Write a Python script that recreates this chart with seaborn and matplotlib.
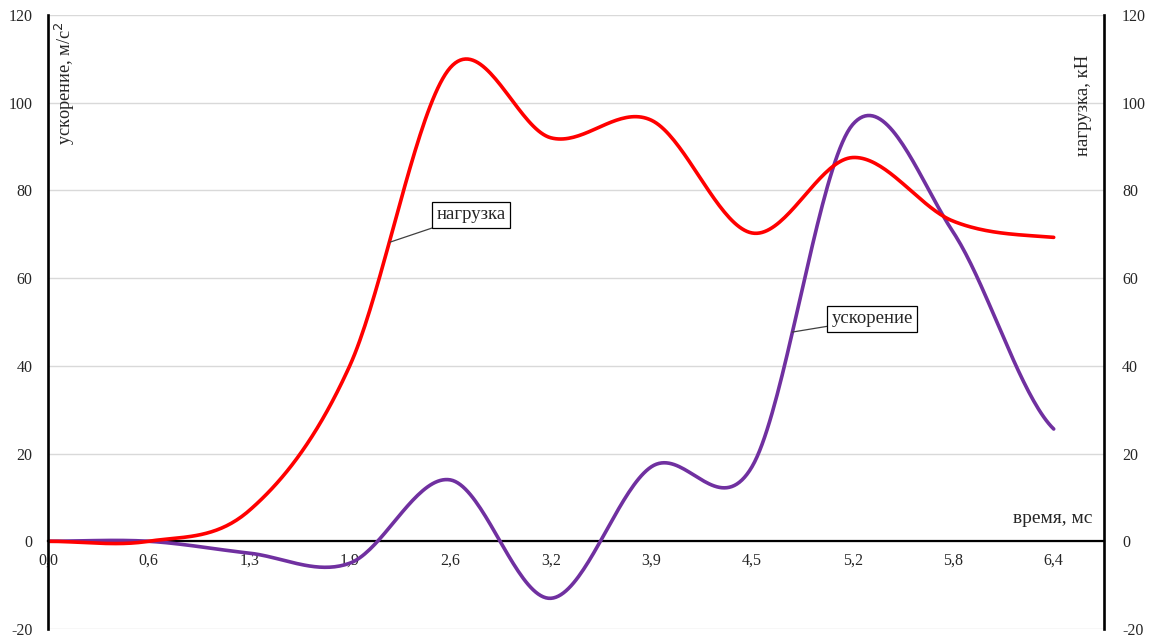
import numpy as np
import pandas as pd
import matplotlib
matplotlib.use("Agg")
import matplotlib.pyplot as plt
import seaborn as sns

# ----------------------------------------------------------------------
# data (one value per time label)
# ----------------------------------------------------------------------
time_labels = ["0,0", "0,6", "1,3", "1,9", "2,6", "3,2", "3,9", "4,5", "5,2", "5,8", "6,4"]
load_kn = [0, 0, 7, 40, 108, 92, 96, 70.3, 87.5, 73, 69.3]          # нагрузка, кН
accel = [0, 0, -2.7, -5, 14, -13, 17, 17, 95, 70.5, 25.6]            # ускорение, м/с2

y_ticks = [-20, 0, 20, 40, 60, 80, 100, 120]

RED = "#FF0000"
PURPLE = "#7030A0"


def smooth(values, n=40):
    """Catmull-Rom curve through the points, like Excel's smoothed line."""
    pts = [values[0]] + list(values) + [values[-1]]
    xs, ys = [], []
    t = np.linspace(0, 1, n, endpoint=False)
    for i in range(len(values) - 1):
        p0, p1, p2, p3 = pts[i:i + 4]
        m1 = (p2 - p0) / 2
        m2 = (p3 - p1) / 2
        h00 = 2 * t**3 - 3 * t**2 + 1
        h10 = t**3 - 2 * t**2 + t
        h01 = -2 * t**3 + 3 * t**2
        h11 = t**3 - t**2
        xs.extend(i + t)
        ys.extend(h00 * p1 + h10 * m1 + h01 * p2 + h11 * m2)
    xs.append(len(values) - 1)
    ys.append(values[-1])
    return np.array(xs), np.array(ys)


xa, ya = smooth(accel)
xl, yl = smooth(load_kn)
df = pd.concat([
    pd.DataFrame({"x": xa, "y": ya, "series": "ускорение"}),
    pd.DataFrame({"x": xl, "y": yl, "series": "нагрузка"}),
])

sns.set_style("white")
plt.rcParams["font.family"] = ["Liberation Serif", "DejaVu Serif"]
plt.rcParams["font.size"] = 11.5
plt.rcParams["axes.unicode_minus"] = False

fig = plt.figure(figsize=(11.54, 6.41), dpi=100)
ax = fig.add_axes([48 / 1154, 1 - 629 / 641, (1104 - 48) / 1154, (629 - 15) / 641])

sns.lineplot(data=df, x="x", y="y", hue="series", sort=False,
             palette={"ускорение": PURPLE, "нагрузка": RED},
             hue_order=["ускорение", "нагрузка"],
             linewidth=2.6, legend=False, ax=ax)

ax.set_xlim(0, 10.5)
ax.set_ylim(-20, 120)
ax.set_yticks(y_ticks)
ax.set_xticks(range(len(time_labels)))
ax.set_xticklabels(time_labels)
ax.set_xlabel("")
ax.set_ylabel("")

ax.grid(axis="y", color="#d9d9d9", linewidth=1)
ax.grid(axis="x", visible=False)
ax.set_axisbelow(True)

for side in ["top", "right"]:
    ax.spines[side].set_visible(False)
ax.spines["left"].set_color("black")
ax.spines["left"].set_linewidth(1.9)
ax.spines["bottom"].set_position(("data", 0))
ax.spines["bottom"].set_color("black")
ax.spines["bottom"].set_linewidth(1.6)
ax.spines["bottom"].set_zorder(1.5)
ax.tick_params(axis="y", length=0, pad=11, labelsize=11.5)
ax.tick_params(axis="x", length=0, pad=8, labelsize=11.5)

# right axis for the load, same scale
ax2 = ax.twinx()
ax2.set_ylim(-20, 120)
ax2.set_yticks(y_ticks)
for side in ["top", "left", "bottom"]:
    ax2.spines[side].set_visible(False)
ax2.spines["right"].set_color("black")
ax2.spines["right"].set_linewidth(1.9)
ax2.tick_params(axis="y", length=0, pad=13, labelsize=11.5)
ax2.grid(False)

# axis titles placed inside the plot area like in the original
ax.text(0.016, 0.99, "ускорение, м/с$^2$", transform=ax.transAxes,
        rotation=90, ha="center", va="top", fontsize=13.2)
ax.text(0.981, 0.936, "нагрузка, кН", transform=ax.transAxes,
        rotation=90, ha="center", va="top", fontsize=13.5)
ax.text(0.989, 0.166, "время, мс", transform=ax.transAxes,
        ha="right", va="bottom", fontsize=14)

# callout labels
box = dict(boxstyle="square,pad=0.22", facecolor="white", edgecolor="black", linewidth=0.9)
line = dict(arrowstyle="-", color="#404040", linewidth=0.9, shrinkA=0, shrinkB=0)
ax.annotate("нагрузка", xy=(3.40, 68.2), xytext=(3.86, 74.4),
            ha="left", va="center", fontsize=13.5, bbox=box, arrowprops=line)
ax.annotate("ускорение", xy=(7.40, 47.7), xytext=(7.79, 50.7),
            ha="left", va="center", fontsize=13.5, bbox=box, arrowprops=line)

fig.savefig("out.png", dpi=100)
